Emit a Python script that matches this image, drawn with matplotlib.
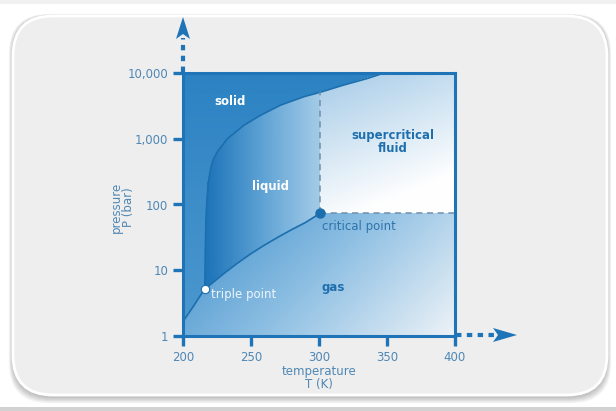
import numpy as np
import matplotlib.pyplot as plt
from matplotlib.colors import LinearSegmentedColormap
from matplotlib.patches import Polygon, FancyBboxPatch

# ==========================
# DATA
# ==========================
sub_T = [200, 204, 208, 212, 216]
sub_p = [1.66, 2.2, 2.9, 3.9, 5.2]

vap_T = [216, 220, 230, 240, 250, 260, 270, 280, 290, 301]
vap_p = [5.2, 6.0, 8.9, 12.8, 17.9, 24.2, 32.0, 41.6, 53.2, 74.0]

mel_T = [216, 216.4, 216.9, 217.6, 218.7, 220.3, 222, 225.2, 232.6, 244.9,
         257.1, 271.8, 288.9, 301, 318.4, 335.5, 347.8]
mel_p = [5.2, 20, 60, 120, 220, 350, 470, 630, 1000, 1610,
         2280, 3250, 4360, 5100, 6580, 8250, 10000]

triple = (216, 5.2)
critical = (301, 74.0)

x_ticks = [200, 250, 300, 350, 400]
y_ticks = [1, 10, 100, 1000, 10000]
y_labels = ["1", "10", "100", "1,000", "10,000"]

T_min, T_max = 200, 400
p_min, p_max = 1, 10000

BLUE = "#1e74b7"
LINE = "#1b6fae"
TICKTXT = "#4f87b5"
DASH = "#6f8fac"

plt.rcParams["font.family"] = "DejaVu Sans"

fig = plt.figure(figsize=(6.16, 4.11), dpi=100)
fig.patch.set_facecolor("white")

# ==========================
# CARD BACKGROUND (pixel coords)
# ==========================
bg = fig.add_axes([0, 0, 1, 1], zorder=0)
bg.set_xlim(0, 616)
bg.set_ylim(411, 0)
bg.axis("off")

bg.add_patch(plt.Rectangle((0, 0), 616, 4, fc="#f1f1f1", ec="none"))
bg.add_patch(plt.Rectangle((0, 407), 616, 4, fc="#d2d2d2", ec="none"))

for i in range(7, 0, -1):
    bg.add_patch(FancyBboxPatch(
        (13 - i * 0.6, 16 - i * 0.3), 594 + i * 1.2, 381 + i * 1.2,
        boxstyle="round,pad=0,rounding_size=40",
        fc="#000000", ec="none", alpha=0.035
    ))
bg.add_patch(FancyBboxPatch(
    (13, 16), 594, 379,
    boxstyle="round,pad=0,rounding_size=40",
    fc="#eeeeee", ec="white", lw=2
))

# axis arrows
bg.plot([183, 183], [72, 38], color=BLUE, lw=3, dashes=(1.3, 1.3))
bg.add_patch(Polygon([(183, 17), (176, 39), (183, 34), (190, 39)],
                     closed=True, fc=BLUE, ec="none"))
bg.plot([456, 494], [335, 335], color=BLUE, lw=3, dashes=(1.3, 1.3))
bg.add_patch(Polygon([(517, 335), (493, 328), (498, 335), (493, 342)],
                     closed=True, fc=BLUE, ec="none"))

# ==========================
# PHASE DIAGRAM
# ==========================
ax = fig.add_axes([183 / 616, 75 / 411, 272 / 616, 263 / 411], zorder=1)
ax.set_yscale("log")
ax.set_xlim(T_min, T_max)
ax.set_ylim(p_min, p_max)
ax.set_facecolor("none")

sub = list(zip(sub_T, sub_p))
vap = list(zip(vap_T, vap_p))
mel = list(zip(mel_T, mel_p))
k = mel_T.index(critical[0])

solid_poly = sub + mel[1:] + [(T_min, p_max)]
liquid_poly = mel[:k + 1] + vap[::-1]
super_poly = [critical, (T_max, critical[1]), (T_max, p_max)] + mel[k:][::-1]
gas_poly = [(T_min, p_min), (T_max, p_min), (T_max, critical[1])] + vap[::-1] + sub[::-1]

Tg = np.linspace(T_min, T_max, 301)
Lg = np.linspace(0, 4, 301)
TT, LL = np.meshgrid(Tg, Lg)
PP = 10 ** LL

lc = np.log10(critical[1])
fields = [
    (solid_poly, 1 - LL / 4, ["#2c82c2", "#4d98cf"]),
    (liquid_poly, (TT - 216) / (critical[0] - 216), ["#1b73b9", "#5fa3d5", "#a6cce8"]),
    (super_poly, 0.35 * (TT - critical[0]) / 99 + 0.9 * (1 - (LL - lc) / (4 - lc)),
     ["#a5cbe8", "#ffffff"]),
    (gas_poly, 0.7 * (TT - T_min) / 200 + 0.3 * (1 - LL / lc),
     ["#3f8fcb", "#8fc0e3", "#eef3f8"]),
]

for poly, u, cols in fields:
    cmap = LinearSegmentedColormap.from_list("g", cols)
    mesh = ax.pcolormesh(TT, PP, np.clip(u, 0, 1), cmap=cmap, vmin=0, vmax=1,
                         shading="gouraud", zorder=1)
    clip = Polygon(poly, closed=True, transform=ax.transData, fc="none", ec="none")
    ax.add_patch(clip)
    mesh.set_clip_path(clip)

# boundaries
ax.plot(sub_T, sub_p, color=LINE, lw=1.2, zorder=3)
ax.plot(vap_T, vap_p, color=LINE, lw=1.2, zorder=3)
ax.plot(mel_T, mel_p, color=LINE, lw=1.2, zorder=3)
ax.plot([critical[0], critical[0]], [critical[1], mel_p[k]],
        color=DASH, lw=1.1, dashes=(4, 3), zorder=3)
ax.plot([critical[0], T_max], [critical[1], critical[1]],
        color=DASH, lw=1.1, dashes=(4, 3), zorder=3)

ax.plot(*critical, "o", color=LINE, ms=6.5, zorder=4, clip_on=False)
ax.plot(*triple, "o", mfc="white", mec=LINE, mew=0.8, ms=6, zorder=4)

# region labels
ax.text(234.6, 3750, "solid", color="white", fontsize=8.5,
        fontweight="bold", ha="center", va="center", zorder=5)
ax.text(264, 191, "liquid", color="white", fontsize=8.5,
        fontweight="bold", ha="center", va="center", zorder=5)
ax.text(354.4, 891, "supercritical\nfluid", color="#1f6fae", fontsize=8.5,
        fontweight="bold", ha="center", va="center", linespacing=1.05, zorder=5)
ax.text(310.3, 5.4, "gas", color="#1f6fae", fontsize=8.5,
        fontweight="bold", ha="center", va="center", zorder=5)
ax.text(302, 47, "critical point", color="#2e73ad", fontsize=8.5,
        ha="left", va="center", zorder=5)
ax.text(220.5, 4.35, "triple point", color="#eef5fb", fontsize=8.5,
        ha="left", va="center", zorder=5)

# axes styling
for s in ax.spines.values():
    s.set_color(BLUE)
    s.set_linewidth(2.2)
    s.set_zorder(6)

ax.set_xticks(x_ticks)
ax.set_yticks(y_ticks)
ax.set_yticklabels(y_labels)
ax.minorticks_off()
ax.tick_params(axis="both", direction="out", length=7, width=2.4,
               color=BLUE, labelcolor=TICKTXT, labelsize=8.5, pad=3.5)

ax.set_xlabel("temperature\nT (K)", color=TICKTXT, fontsize=8.5,
              linespacing=1.0, labelpad=1)
ax.set_ylabel("pressure\nP (bar)", color=TICKTXT, fontsize=8.5,
              linespacing=1.0)
ax.yaxis.set_label_coords(-0.175, 0.49)

fig.savefig("out.png", dpi=100, facecolor=fig.get_facecolor())
